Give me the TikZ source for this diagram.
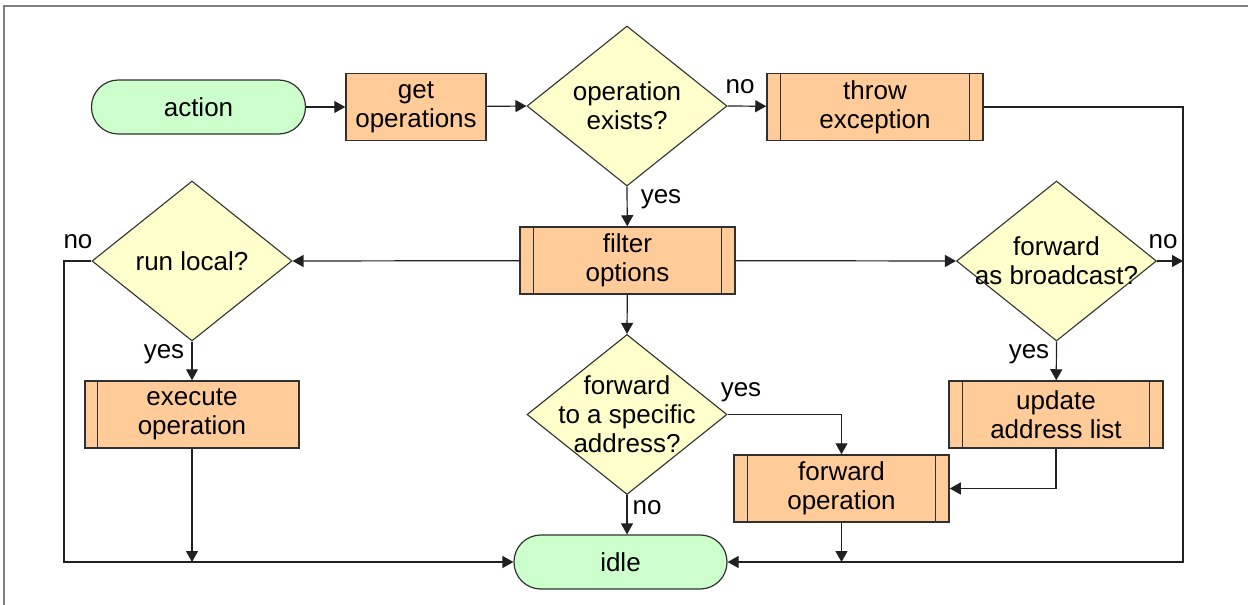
\documentclass[tikz,border=0pt]{standalone}
\usepackage{fontspec}
\setmainfont{Liberation Sans}
\usetikzlibrary{shapes.geometric,arrows.meta,calc}
\definecolor{termfill}{HTML}{CCFFCC}
\definecolor{procfill}{HTML}{FFCC99}
\definecolor{decfill}{HTML}{FFFFCC}
\definecolor{edge}{HTML}{303030}
\definecolor{wire}{HTML}{202020}
\definecolor{frame}{HTML}{808080}
\tikzset{
  txt/.style={font=\fontsize{13}{14.5}\selectfont, align=center},
  terminal/.style={draw=edge, line width=0.6pt, fill=termfill, rectangle,
    rounded corners=13.4pt, minimum width=107pt, minimum height=27pt,
    inner sep=0pt, txt},
  procbox/.style={draw=edge, line width=0.75pt, fill=procfill, rectangle,
    minimum width=107.5pt, minimum height=33.5pt, inner sep=0pt, txt},
  decision/.style={draw=edge, line width=0.55pt, fill=decfill, diamond,
    minimum width=100pt, minimum height=80pt, inner sep=0pt},
  lbl/.style={txt, inner sep=0pt},
  arr/.style={draw=wire, line width=0.6pt,
    -{Triangle[length=5.5pt,width=6pt]}},
  sidebar/.style={draw=edge, line width=0.6pt}
}
\begin{document}
\begin{tikzpicture}[x=0.5pt, y=-0.5pt]
  \useasboundingbox (0,0) rectangle (1248,605);
  % outer frame
  \draw[frame, line width=0.8pt] (4,610) -- (4,6) -- (1252,6);

  % nodes
  \node[terminal] (action) at (198.5,107) {action};
  \node[procbox, minimum width=70pt] (getops) at (416,107) {get\\operations};
  \node[decision, label={[lbl]center:operation\\exists?}] (opex) at (627,106) {};
  \node[procbox, minimum width=108pt] (throw) at (875,107) {throw\\exception};
  \node[procbox] (filter) at (627.5,260.5) {filter\\options};
  \node[decision, label={[lbl]center:run local?}] (runloc) at (192,261) {};
  \node[procbox, minimum width=107pt] (exec) at (192,414.5) {execute\\operation};
  \node[decision, label={[lbl]center:forward\\as broadcast?}] (fwdbc) at (1056.5,261) {};
  \node[procbox, minimum width=107pt] (update) at (1056,414.5) {update\\address list};
  \node[decision, label={[lbl]center:forward\\to a specific\\address?}] (fwdspec) at (627,414.5) {};
  \node[procbox] (fwdop) at (841.5,488.5) {forward\\operation};
  \node[terminal, minimum width=106.5pt] (idle) at (620.5,562) {idle};

  % double side bars of the predefined-process boxes
  \foreach \n in {throw,filter,update,fwdop}{
    \draw[sidebar] ([xshift=7pt]\n.north west) -- ([xshift=7pt]\n.south west);
    \draw[sidebar] ([xshift=-7pt]\n.north east) -- ([xshift=-7pt]\n.south east);
  }
  \draw[sidebar] ([xshift=6.5pt]exec.north west) -- ([xshift=6.5pt]exec.south west);

  % junction points on the return lines
  \coordinate (cL) at (64,562);
  \coordinate (cR) at (1183,562);

  % connectors
  \draw[arr] (action) -- (getops);
  \draw[arr] (getops) -- (opex.west);
  \draw[arr] (opex.east) -- (throw);
  \draw[arr] (opex.south) -- (filter);
  \draw[arr] (filter) -- (runloc.east);
  \draw[arr] (filter) -- (fwdbc.west);
  \draw[arr] (filter) -- (fwdspec.north);
  \draw[arr] (runloc.south) -- (exec);
  \draw[arr] (fwdbc.south) -- (update);
  \draw[arr] (fwdspec.south) -- (fwdspec.south |- idle.north);
  \draw[arr] (fwdspec.east) -| (fwdop.north);
  \draw[arr] (update.south) |- (fwdop.east);
  \draw[arr] (runloc.west) -| (cL) -- (idle.west);
  \draw[arr] (throw.east) -| (cR) -- (idle.east);
  \draw[arr] (fwdbc.east) -- (fwdbc.east -| cR);
  \draw[arr] (exec.south) -- (exec.south |- cL);
  \draw[arr] (fwdop.south) -- (fwdop.south |- cR);

  % branch labels
  \node[lbl] (l1) at (740,87) {no};
  \node[lbl] (l2) at (661,199) {yes};
  \node[lbl] (l3) at (78,242) {no};
  \node[lbl] (l4) at (164,354) {yes};
  \node[lbl] (l5) at (1163,242) {no};
  \node[lbl] (l6) at (1029,354) {yes};
  \node[lbl] (l7) at (741,392) {yes};
  \node[lbl] (l8) at (647,508) {no};
\end{tikzpicture}
\end{document}
